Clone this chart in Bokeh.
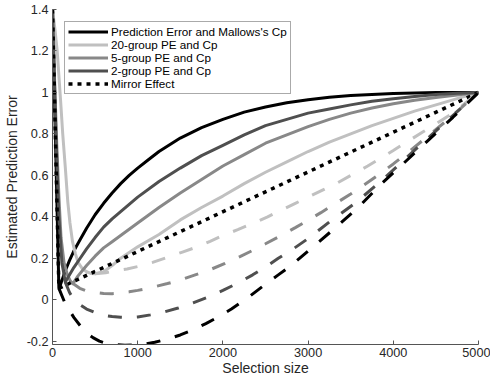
from bokeh.plotting import figure
from bokeh.models import Range1d, FixedTicker, Legend, LegendItem
from bokeh.embed import file_html
from bokeh.resources import INLINE

# ---- data ----
x_ticks = [0, 1000, 2000, 3000, 4000, 5000]
x_tick_labels = ["0", "1000", "2000", "3000", "4000", "5000"]
y_ticks = [-0.2, 0.0, 0.2, 0.4, 0.6, 0.8, 1.0, 1.2, 1.4]
y_tick_labels = ["-0.2", "0", "0.2", "0.4", "0.6", "0.8", "1", "1.2", "1.4"]

# Prediction Error and Mallows's Cp (black, solid)
pe_x = [0, 75, 100, 150, 200, 250, 325, 400, 500, 600, 700, 800, 900, 1000, 1125, 1250, 1500, 1750,
        2000, 2250, 2500, 2750, 3000, 3250, 3500, 3750, 4000, 4500, 5000]
pe_y = [1.40, 0.055, 0.08, 0.14, 0.19, 0.235, 0.29, 0.345, 0.41, 0.465, 0.515, 0.56, 0.60, 0.635, 0.675, 0.715, 0.78, 0.83,
        0.87, 0.905, 0.93, 0.95, 0.965, 0.977, 0.985, 0.99, 0.995, 1.0, 1.0]

# 20-group PE and Cp (light gray, solid)
g20_x = [0, 30, 55, 75, 95, 120, 150, 180, 205, 235, 270, 300, 350, 400, 450, 500, 600, 700, 800, 900, 1000,
         1250, 1500, 1750, 2000, 2250, 2500, 2750, 3000, 3250, 3500, 3750, 4000, 4250, 4500, 4750, 5000]
g20_y = [1.40, 1.30, 1.20, 1.08, 0.96, 0.80, 0.64, 0.47, 0.37, 0.28, 0.22, 0.18, 0.15, 0.135, 0.127, 0.125, 0.135, 0.165, 0.20, 0.228, 0.255,
         0.315, 0.385, 0.445, 0.50, 0.56, 0.615, 0.665, 0.715, 0.76, 0.80, 0.84, 0.875, 0.91, 0.94, 0.97, 1.0]

# 5-group PE and Cp (mid gray, solid)
g5_x = [0, 25, 50, 75, 100, 135, 175, 210, 240, 300, 400, 500, 600, 700, 800, 900, 1000, 1250, 1500, 1750,
        2000, 2250, 2500, 2750, 3000, 3250, 3500, 3750, 4000, 4250, 4500, 4750, 5000]
g5_y = [1.40, 1.05, 0.75, 0.50, 0.30, 0.18, 0.12, 0.09, 0.078, 0.115, 0.165, 0.21, 0.25, 0.28, 0.31, 0.34, 0.37, 0.445, 0.515, 0.58,
        0.645, 0.70, 0.755, 0.795, 0.835, 0.87, 0.90, 0.925, 0.945, 0.962, 0.975, 0.988, 1.0]

# 2-group PE and Cp (dark gray, solid)
g2_x = [0, 40, 75, 110, 150, 200, 250, 325, 400, 500, 600, 700, 800, 900, 1000, 1250, 1500, 1750, 2000,
        2250, 2500, 2750, 3000, 3250, 3500, 3750, 4000, 4250, 4500, 4750, 5000]
g2_y = [1.40, 0.80, 0.40, 0.18, 0.085, 0.12, 0.155, 0.20, 0.245, 0.30, 0.35, 0.39, 0.425, 0.46, 0.495, 0.57, 0.635, 0.695, 0.745,
        0.795, 0.84, 0.87, 0.90, 0.92, 0.94, 0.957, 0.97, 0.98, 0.99, 0.996, 1.0]

# Mirror effect (black, dotted)
mir_x = [0, 75, 5000]
mir_y = [1.40, 0.055, 1.0]

# mirrored curves (dashed)
pe_m_x = [75, 150, 250, 325, 400, 475, 550, 625, 700, 850, 1000, 1100, 1200, 1350, 1500, 1650, 1800, 1950, 2100,
          2300, 2500, 2650, 2800, 3000, 3300, 3600, 3850, 4100, 4400, 4700, 5000]
pe_m_y = [0.055, -0.02, -0.085, -0.125, -0.16, -0.183, -0.20, -0.21, -0.215, -0.22, -0.218, -0.213, -0.205, -0.19, -0.17, -0.145, -0.115, -0.082, -0.045,
          0.012, 0.075, 0.12, 0.165, 0.235, 0.34, 0.45, 0.555, 0.65, 0.765, 0.88, 1.0]

g20_m_x = [500, 625, 750, 875, 1000, 1175, 1350, 1525, 1700, 1850, 2000, 2175, 2350, 2525, 2700, 2850, 3000,
           3175, 3350, 3525, 3700, 3850, 4000, 4175, 4350, 4525, 4700, 4850, 5000]
g20_m_y = [0.125, 0.13, 0.14, 0.148, 0.16, 0.18, 0.205, 0.23, 0.255, 0.282, 0.31, 0.338, 0.368, 0.40, 0.435, 0.465, 0.495,
           0.53, 0.565, 0.605, 0.645, 0.682, 0.72, 0.765, 0.81, 0.855, 0.90, 0.95, 1.0]

g5_m_x = [240, 320, 400, 500, 600, 700, 800, 900, 1000, 1100, 1200, 1350, 1500, 1675, 1850, 2025, 2200, 2350, 2500,
          2675, 2850, 3000, 3150, 3325, 3500, 3650, 3800, 4000, 4200, 4400, 4600, 4800, 5000]
g5_m_y = [0.078, 0.055, 0.042, 0.035, 0.03, 0.029, 0.032, 0.038, 0.045, 0.053, 0.063, 0.078, 0.095, 0.12, 0.145, 0.175, 0.208, 0.238, 0.27,
          0.308, 0.348, 0.383, 0.42, 0.465, 0.51, 0.552, 0.595, 0.655, 0.72, 0.787, 0.855, 0.927, 1.0]

g2_m_x = [150, 200, 250, 325, 400, 500, 600, 700, 800, 900, 1000, 1150, 1300, 1475, 1650, 1825, 2000, 2175, 2350,
          2500, 2650, 2825, 3000, 3250, 3550, 3850, 4075, 4300, 4650, 5000]
g2_m_y = [0.085, 0.035, 0.0, -0.025, -0.045, -0.062, -0.075, -0.081, -0.085, -0.086, -0.083, -0.073, -0.06, -0.04, -0.015, 0.013, 0.045, 0.08, 0.12,
          0.158, 0.20, 0.245, 0.295, 0.375, 0.465, 0.57, 0.655, 0.74, 0.87, 1.0]

labels = ["Prediction Error and Mallows's Cp", "20-group PE and Cp",
          "5-group PE and Cp", "2-group PE and Cp", "Mirror Effect"]

# ---- styling ----
C_BLACK = "#000000"
C_LIGHT = "#c0c0c0"
C_MID = "#888888"
C_DARK = "#4f4f4f"
FONT = "Liberation Sans"
TXT = "#262626"
LW = 3
DASH = "14 15"
DOT = "4 5"

p = figure(width=490, height=380, output_backend="svg", toolbar_location=None,
           x_range=Range1d(0, 5000), y_range=Range1d(-0.216, 1.4),
           min_border_left=52, min_border_right=12, min_border_top=9, min_border_bottom=36,
           background_fill_color="white", border_fill_color="white")
p.outline_line_color = None
p.grid.visible = False

r_pe = p.line(pe_x, pe_y, line_color=C_BLACK, line_width=LW, line_join="round")
r_20 = p.line(g20_x, g20_y, line_color=C_LIGHT, line_width=LW, line_join="round")
r_5 = p.line(g5_x, g5_y, line_color=C_MID, line_width=LW, line_join="round")
r_2 = p.line(g2_x, g2_y, line_color=C_DARK, line_width=LW, line_join="round")
r_mir = p.line(mir_x, mir_y, line_color=C_BLACK, line_width=LW + 0.5, line_dash=DOT)

p.line(g20_m_x, g20_m_y, line_color=C_LIGHT, line_width=LW, line_dash=DASH)
p.line(g5_m_x, g5_m_y, line_color=C_MID, line_width=LW, line_dash=DASH)
p.line(g2_m_x, g2_m_y, line_color=C_DARK, line_width=LW, line_dash=DASH)
p.line(pe_m_x, pe_m_y, line_color=C_BLACK, line_width=LW, line_dash=DASH)

# axes
p.xaxis.ticker = FixedTicker(ticks=x_ticks)
p.xaxis.major_label_overrides = {t: l for t, l in zip(x_ticks, x_tick_labels)}
p.yaxis.ticker = FixedTicker(ticks=y_ticks)
p.yaxis.major_label_overrides = {t: l for t, l in zip(y_ticks, y_tick_labels)}
p.xaxis.axis_label = "Selection size"
p.yaxis.axis_label = "Estimated Prediction Error"
for ax in (p.xaxis, p.yaxis):
    ax.axis_line_color = "#555555"
    ax.axis_line_width = 1
    ax.major_tick_line_color = "#555555"
    ax.major_tick_in = 4
    ax.major_tick_out = 0
    ax.minor_tick_line_color = None
    ax.major_label_text_font = FONT
    ax.major_label_text_font_size = "12.7px"
    ax.major_label_text_color = TXT
    ax.axis_label_text_font = FONT
    ax.axis_label_text_font_size = "14px"
    ax.axis_label_text_font_style = "normal"
    ax.axis_label_text_color = TXT
p.xaxis.major_label_standoff = 3
p.xaxis.axis_label_standoff = 0
p.yaxis.major_label_standoff = 4
p.yaxis.axis_label_standoff = 4

legend = Legend(items=[LegendItem(label=labels[0], renderers=[r_pe]),
                       LegendItem(label=labels[1], renderers=[r_20]),
                       LegendItem(label=labels[2], renderers=[r_5]),
                       LegendItem(label=labels[3], renderers=[r_2]),
                       LegendItem(label=labels[4], renderers=[r_mir])],
                location="top_left", margin=12, padding=3, spacing=0,
                label_height=13, glyph_height=13, glyph_width=40, label_standoff=3,
                label_text_font=FONT, label_text_font_size="11.7px", label_text_color="#000000",
                border_line_color="#555555", border_line_width=1,
                background_fill_color="white", background_fill_alpha=1.0)
p.add_layout(legend)

open("out.html", "w").write(file_html(p, INLINE))
